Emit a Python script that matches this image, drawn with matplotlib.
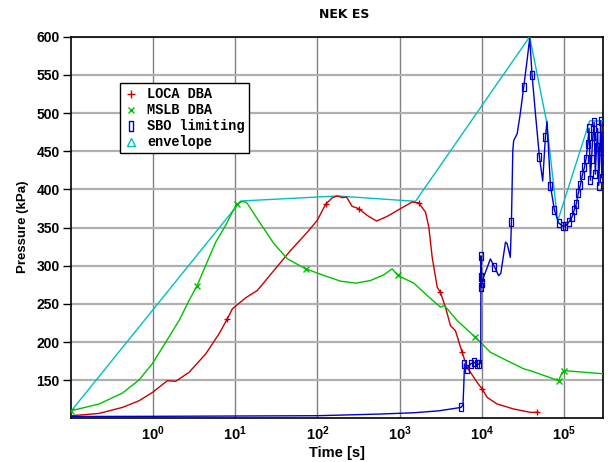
"""
NEK ES containment pressure - LOCA / MSLB / SBO and envelope
"""

import matplotlib
matplotlib.use('Agg')
import matplotlib.pyplot as plt
from matplotlib.lines import Line2D

# ---- data ----
# LOCA DBA
t_loca = [0.1, 0.221, 0.426, 0.678, 0.99, 1.5, 1.89, 2.75, 4.38, 6.36, 8.03, 9.25,
          13.4, 18.6, 29.6, 47.2, 75.4, 99.7, 126, 152, 175, 201, 226, 265, 319,
          403, 524, 706, 1025, 1422, 1710, 2064, 2265, 2489, 2864, 3142, 3610,
          4150, 4774, 5755, 6620, 8760, 10100, 11600, 15300, 24400, 39000, 47000]
p_loca = [103.5, 106.6, 114.5, 123.2, 134.2, 149.5, 148.6, 160.4, 184.5, 210.8,
          230.4, 243.6, 258, 267.6, 293.8, 320, 344, 359.5, 380.5, 389.2, 391.4,
          389.2, 390, 377.8, 374.8, 366, 358.5, 364.7, 374.8, 383.5, 382.2, 370.3,
          350.7, 311.3, 272, 265, 245.7, 221.7, 215, 186.6, 167, 147.3, 138.6,
          127.6, 119, 112.4, 108, 108]

# MSLB DBA
t_mslb = [0.1, 0.221, 0.426, 0.678, 0.99, 1.43, 2.08, 2.75, 3.41, 4.38, 5.8, 7.67,
          9.25, 10.6, 12, 13.4, 14.1, 16.9, 20.4, 29.6, 43.1, 71.9, 120, 191, 291,
          443, 643, 813, 950, 1490, 2163, 3142, 3500, 5014, 8360, 9620, 12700,
          20300, 32300, 39000, 85900, 94600, 101000, 300000]
p_mslb = [110, 118.9, 133.3, 150.4, 172.2, 199.8, 228.2, 254.5, 272.9, 300.4, 331,
          352.9, 370.4, 380.5, 384, 383.5, 381.4, 368.3, 355, 328.9, 309.2, 296,
          287.3, 279.8, 277.2, 280.7, 288.2, 296, 287.3, 277.2, 261, 245.7, 248,
          228.2, 206.3, 200, 186.6, 175.7, 165, 162.6, 149.5, 160.4, 162.6, 158.5]

# SBO limiting
t_sbo = [0.1, 1, 100, 586, 1500, 3000, 5600, 5900, 6040, 6150, 6630, 7280, 7990,
         8780, 9360, 9600, 9700, 9750, 9800, 9850, 9900, 10000, 10500, 12700,
         14200, 16000, 17000, 19400, 20300, 22200, 22900, 23800, 24400, 26900,
         29400, 32300, 35500, 38200, 40800, 44800, 50100, 55000, 59300, 62100,
         68200, 76300, 85900, 96200, 104000, 114000, 125000, 133000, 141000,
         149000, 158000, 167000, 177000, 185000, 194000, 201000, 209000, 216000,
         224000, 232000, 240000, 248000, 256000, 264000, 272000, 280000, 287000,
         294000, 300000]
p_sbo = [102.6, 102.8, 103.6, 105.8, 107.5, 110, 114.5, 118, 145, 171.4, 164.9,
         171.4, 173.5, 171.4, 171.4, 172, 175, 313, 300, 285, 272, 278, 285, 309,
         299, 287, 290, 331, 329, 311, 357, 451, 464, 473, 500, 534, 569, 598, 550,
         500, 443, 411, 469, 489, 405, 373, 356, 352, 352, 357, 364, 373, 381, 395,
         406, 419, 429, 440, 460, 480, 412, 440, 470, 488, 420, 455, 480, 405, 450,
         490, 415, 470, 440]

# envelope
t_env = [0.1, 11.7, 175, 1560, 38200, 61000, 83600, 205000, 300000]
p_env = [109, 384.8, 391.4, 384.4, 600, 489.8, 358.5, 489.8, 489.8]

x_ticks = [1, 10, 100, 1000, 10000, 100000]
x_ticklabels = [r'$\mathbf{10^{%d}}$' % i for i in range(6)]
y_ticks = [150, 200, 250, 300, 350, 400, 450, 500, 550, 600]

# where the symbols sit on each curve
marks_loca = [8.03, 126, 319, 1710, 3142, 5755, 10100, 47000]
marks_mslb = [0.1, 3.41, 10.6, 71.9, 950, 8360, 85900, 101000]
marks_sbo = [5600, 6150, 6630, 7280, 7990, 8780, 9360, 9750, 9850, 9900, 10000,
             14200, 22900, 32300, 40800, 50100, 59300, 68200, 76300, 85900,
             96200, 104000, 114000] + t_sbo[t_sbo.index(125000):]

assert len(t_loca) == len(p_loca)
assert len(t_mslb) == len(p_mslb)
assert len(t_sbo) == len(p_sbo)

RED = '#c80000'
GREEN = '#00c000'
BLUE = '#0000cc'
CYAN = '#00c0c0'
rect = [(-0.5, -1), (0.5, -1), (0.5, 1), (-0.5, 1), (-0.5, -1)]

plt.rcParams['font.family'] = ['Liberation Sans', 'DejaVu Sans']
plt.rcParams['mathtext.fontset'] = 'custom'
plt.rcParams['mathtext.bf'] = 'Liberation Sans:bold'
plt.rcParams['mathtext.rm'] = 'Liberation Sans'

fig = plt.figure(figsize=(6.16, 4.62), dpi=100)
ax = fig.add_axes([70.7 / 616, 1 - 417.7 / 462, 532.6 / 616, 381 / 462])

LW = 1.0
ax.plot(t_env, p_env, color=CYAN, lw=LW, zorder=3)
ax.plot(t_loca, p_loca, color=RED, lw=LW, marker='+', ms=5, mew=1.0,
        markevery=[t_loca.index(v) for v in marks_loca], zorder=4)
ax.plot(t_mslb, p_mslb, color=GREEN, lw=LW, marker='x', ms=4, mew=1.0,
        markevery=[t_mslb.index(v) for v in marks_mslb], zorder=4)
ax.plot(t_sbo, p_sbo, color=BLUE, lw=LW, marker=rect, ms=5.5, mew=0.9, mfc='none',
        markevery=[t_sbo.index(v) for v in marks_sbo], zorder=5)

ax.set_xscale('log')
ax.set_xlim(0.1, 3e5)
ax.set_ylim(101, 600)
ax.set_xticks(x_ticks)
ax.set_xticklabels(x_ticklabels, fontsize=10.5)
ax.xaxis.set_minor_locator(matplotlib.ticker.NullLocator())
ax.set_yticks(y_ticks)
ax.set_yticklabels([str(v) for v in y_ticks], fontsize=10, fontweight='bold')
ax.tick_params(axis='x', length=0, pad=5)
ax.tick_params(axis='y', length=6, width=1, direction='out', pad=2)

ax.xaxis.grid(True, color='#808080', lw=1.0)
ax.yaxis.grid(True, color='#b0b0b0', lw=1.6)
ax.set_axisbelow(True)
for s in ax.spines.values():
    s.set_linewidth(1.2)

ax.set_xlabel('Time [s]', fontsize=10.5, fontweight='bold', labelpad=2)
ax.set_ylabel('Pressure (kPa)', fontsize=9.5, fontweight='bold', labelpad=5)
fig.text(344 / 616, 1 - 15 / 462, 'NEK ES', ha='center', va='center',
         fontsize=9, fontweight='bold', family='DejaVu Sans')

handles = [
    Line2D([], [], ls='none', marker='+', color=RED, ms=6, mew=1.0),
    Line2D([], [], ls='none', marker='x', color=GREEN, ms=5, mew=1.0),
    Line2D([], [], ls='none', marker=rect, color=BLUE, mfc='none', ms=7, mew=1.0),
    Line2D([], [], ls='none', marker='^', color=CYAN, mfc='none', ms=5.5, mew=1.0),
]
leg = ax.legend(handles, ['LOCA DBA', 'MSLB DBA', 'SBO limiting', 'envelope'],
                loc='upper left', bbox_to_anchor=(0.0926, 0.878), borderaxespad=0,
                fancybox=False, edgecolor='black', framealpha=1, handlelength=1.0,
                handletextpad=0.7, borderpad=0.3, labelspacing=0.15,
                prop={'family': 'Liberation Mono', 'weight': 'bold', 'size': 9.8})
leg.get_frame().set_linewidth(1.0)

fig.savefig('out.png', dpi=100)
